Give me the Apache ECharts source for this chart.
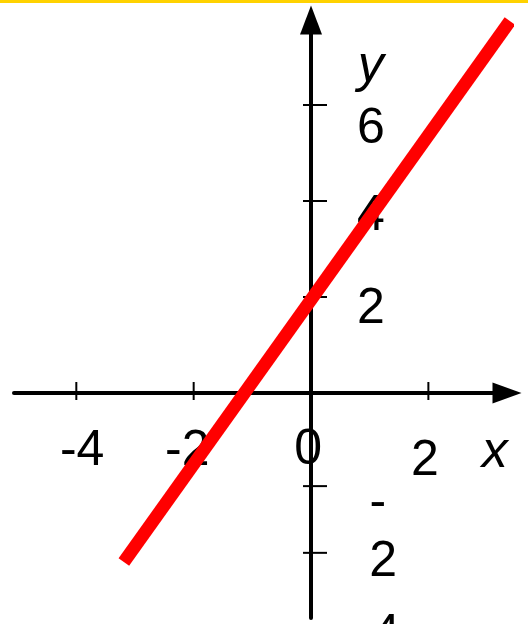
<!DOCTYPE html>
<html>
<head>
<meta charset="utf-8">
<script src="https://cdn.jsdelivr.net/npm/echarts@6/dist/echarts.min.js"></script>
<style>
  html, body { margin: 0; padding: 0; background: #fff; }
  #chart { width: 528px; height: 624px; }
</style>
</head>
<body>
<div id="chart"></div>
<script>
// the red line y ≈ 1.7x + 2, read from its two ends
const lineX = [-3.19, 3.39]
const lineY = [-3.52, 7.75]

// tick marks (the lower y ticks are not evenly spaced in the picture)
const xTicks = [-4, -2, 2]
const yTicks = [6, 4, 2, -1.94, -3.33]

// tick labels and where they sit, in axis units
const labelText = ['-4', '-2', '0', '2', 'x', 'y', '6', '4', '2', '-', '2', '4']
const labelX = [-3.90, -2.11, -0.05, 1.94, 3.13, 1.02, 1.02, 1.02, 1.02, 1.14, 1.23, 1.28]
const labelY = [-1.21, -1.21, -1.19, -1.42, -1.23, 6.81, 5.50, 3.69, 1.75, -2.29, -3.52, -5.04]

const FONT = "'Liberation Sans', Arial, sans-serif"

const chart = echarts.init(document.getElementById('chart'))

const labelData = labelText.map((t, i) => {
  const italic = t === 'x' || t === 'y'
  return {
    value: [labelX[i], labelY[i]],
    label: {
      formatter: t,
      color: '#000',
      fontStyle: italic ? 'italic' : 'normal',
      fontSize: italic ? 52 : 50
    }
  }
})

const axisCommon = {
  type: 'value',
  axisLabel: { show: false },
  axisTick: { show: false },
  splitLine: { show: false }
}

const option = {
  animation: false,
  backgroundColor: '#fff',
  grid: { left: 14, right: 21, top: 20, bottom: 6 },
  xAxis: Object.assign({}, axisCommon, {
    min: -5.062,
    max: 3.34,
    axisLine: {
      onZero: true,
      symbol: ['none', 'triangle'],
      symbolSize: [21, 29],
      lineStyle: { color: '#000', width: 4 }
    }
  }),
  yAxis: Object.assign({}, axisCommon, {
    min: -4.6875,
    max: 7.771,
    axisLine: {
      onZero: true,
      symbol: ['none', 'triangle'],
      symbolSize: [22, 29],
      lineStyle: { color: '#000', width: 4 }
    }
  }),
  graphic: [{
    type: 'rect',
    left: 0,
    top: 0,
    shape: { width: 528, height: 3 },
    style: { fill: '#ffd200' }
  }],
  series: [
    {
      type: 'custom',
      z: 2,
      clip: false,
      data: xTicks.map(v => [v, 0]),
      renderItem: function (params, api) {
        const p = api.coord([api.value(0), 0])
        return {
          type: 'line',
          shape: { x1: p[0], y1: p[1] - 11, x2: p[0], y2: p[1] + 7 },
          style: { stroke: '#000', lineWidth: 2 }
        }
      }
    },
    {
      type: 'custom',
      z: 2,
      clip: false,
      data: yTicks.map(v => [0, v]),
      renderItem: function (params, api) {
        const p = api.coord([0, api.value(1)])
        return {
          type: 'line',
          shape: { x1: p[0] - 8, y1: p[1], x2: p[0] + 16, y2: p[1] },
          style: { stroke: '#000', lineWidth: 2 }
        }
      }
    },
    {
      type: 'scatter',
      z: 3,
      clip: false,
      symbolSize: 0,
      silent: true,
      itemStyle: { opacity: 1 },
      data: labelData,
      label: {
        show: true,
        position: 'inside',
        align: 'center',
        verticalAlign: 'middle',
        color: '#000',
        fontFamily: FONT
      }
    },
    {
      type: 'line',
      z: 5,
      clip: false,
      symbol: 'none',
      data: lineX.map((x, i) => [x, lineY[i]]),
      lineStyle: { color: '#ff0000', width: 13, cap: 'butt' }
    }
  ]
}

chart.setOption(option)
</script>
</body>
</html>
